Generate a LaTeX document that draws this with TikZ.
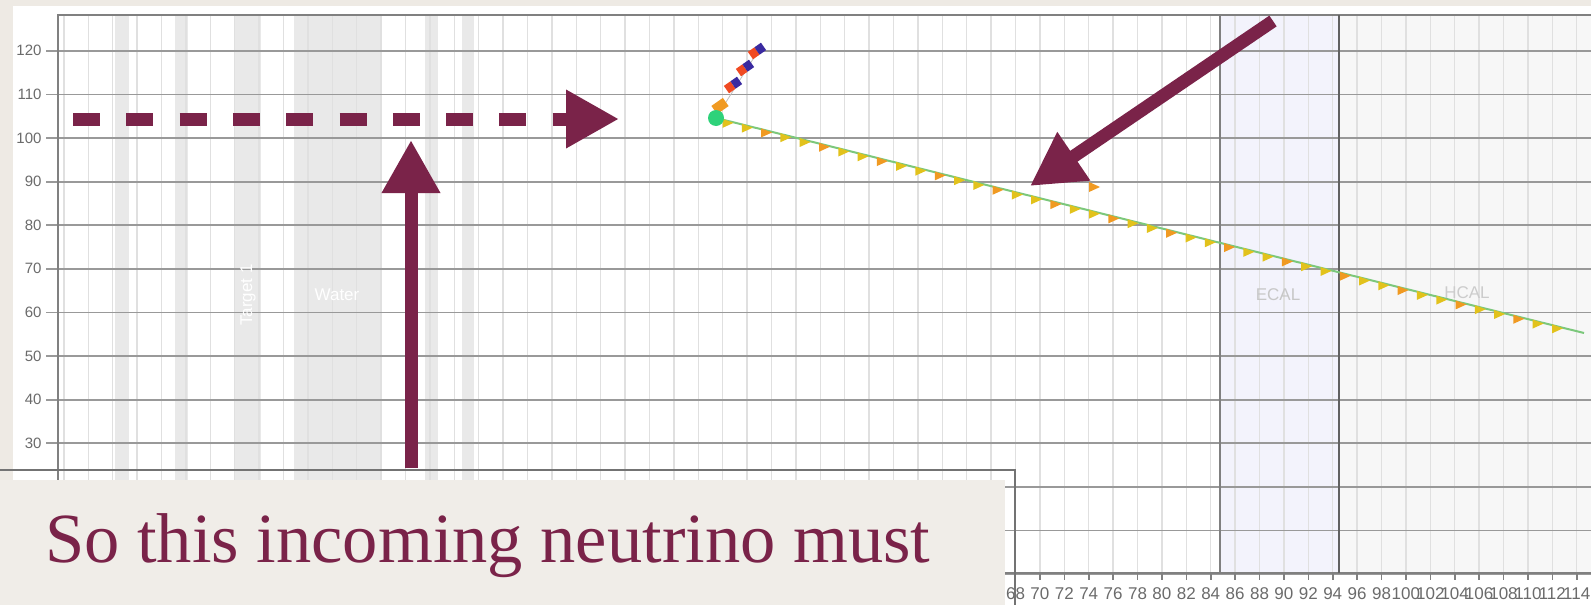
\documentclass[tikz,border=0pt]{standalone}
\usepackage{fontspec}
\setmainfont{Liberation Serif}
\setsansfont{Liberation Sans}
\usetikzlibrary{arrows.meta,calc}

\definecolor{slidered}{HTML}{7A2349}
\definecolor{slidebg}{HTML}{EEEAE4}
\definecolor{boxfill}{HTML}{F0EDE8}
\definecolor{bandgray}{HTML}{E9E9E9}
\definecolor{ecalfill}{HTML}{F3F3FC}
\definecolor{hcalfill}{HTML}{F7F7F7}
\definecolor{trkgreen}{HTML}{7CC87C}
\definecolor{trkyellow}{HTML}{E2C21C}
\definecolor{trkorange}{HTML}{F09A22}
\definecolor{hitred}{HTML}{F04A22}
\definecolor{hitblue}{HTML}{3A2AA0}
\definecolor{vtxgreen}{HTML}{2ED27A}

\begin{document}
\begin{tikzpicture}[
  x=1pt,y=-1pt,
  line cap=butt,
  >={Triangle[length=53pt,width=55pt]},
  note/.style={draw=slidered,line width=13pt,->},
  band/.style={fill=bandgray},
  vgrid/.style={draw=black!12,line width=1.4pt},
  hgrid/.style={draw=black!40,line width=1.8pt},
  frame/.style={draw=black!50,line width=1.6pt},
  axlabel/.style={font=\sffamily\fontsize{15}{15}\selectfont,text=black!58},
  ticklabel/.style={font=\sffamily\fontsize{17}{17}\selectfont,text=black!58,inner sep=0pt},
  detlabel/.style={font=\sffamily\fontsize{17}{17}\selectfont},
  track/.style={draw=trkgreen,line width=2pt},
  caption/.style={font=\fontsize{70.5}{82}\selectfont,text=slidered,inner sep=0pt}
]
\useasboundingbox (0,0) rectangle (1591,605);
\fill[slidebg] (0,0) rectangle (1591,605);
\fill[white] (13,6) rectangle (1591,605);

% detector regions behind the grid
\fill[band] (115,15) rectangle (129,573);
\fill[band] (175,15) rectangle (188,573);
\fill[band] (235,15) rectangle (261,573);
\fill[band] (294,15) rectangle (380,573);
\fill[band] (425,15) rectangle (438,573);
\fill[band] (462,15) rectangle (474,573);
\fill[ecalfill] (1220,15) rectangle (1339,573);
\fill[hcalfill] (1339,15) rectangle (1591,573);

% grid
\begin{scope}
  \clip (58,15) rectangle (1591,573);
  \foreach \k in {0,...,64}
    \draw[vgrid] ({1015.5+(\k-39)*24.4},15) -- ++(0,558);
\end{scope}
\foreach \v in {0,10,...,120} {
  \pgfmathsetmacro\py{138-(\v-100)*4.36}
  \draw[hgrid] (46,\py) -- (1591,\py);
  \node[axlabel,anchor=east] (yl\v) at (45,\py) {\v};
}
\draw[frame] (1591,15) -- (58,15) -- (58,573) -- (1591,573);
\draw[frame] (1220,15) -- (1220,573);
\draw[draw=black!62,line width=1.8pt] (1339,15) -- (1339,573);
\foreach \u in {68,70,...,114} {
  \pgfmathsetmacro\px{1015.5+(\u-68)*12.2}
  \draw[frame] (\px,573) -- ++(0,7);
  \node[ticklabel] (xl\u) at (\px,594) {\u};
}

\node[detlabel,text=white,rotate=90] (tgt) at (248,295) {Target 1};
\node[detlabel,text=white] (water) at (337,295) {Water};
\node[detlabel,text=black!22] (ecal) at (1278,295) {ECAL};
\node[detlabel,text=black!20] (hcal) at (1467,293) {HCAL};

% reconstructed tracks
\coordinate (vtx) at (716,118);
\coordinate (trkend) at (1584,333);
\draw[track] (vtx) -- (trkend);
\foreach \t in {1,...,44} {
  \pgfmathsetmacro\f{(\t-0.4)/45}
  \pgfmathtruncatemacro\c{mod(\t,3)}
  \ifnum\c=0 \def\mc{trkorange}\else\def\mc{trkyellow}\fi
  \fill[\mc] ($(vtx)!\f!(trkend)$) +(-5,-2) -- +(6,2) -- +(-5,7) -- cycle;
}
\fill[trkorange] (1094,187) +(-5,-5) -- +(6,0) -- +(-5,5) -- cycle;
\draw[black!25,line width=0.8pt] (vtx) -- (760,48);
\foreach \mx/\my in {757/51,745/68,733/85} {
  \begin{scope}[shift={(\mx,\my)},rotate=35]
    \fill[hitred] (-8,-4.5) rectangle (0,4.5);
    \fill[hitblue] (0,-4.5) rectangle (8,4.5);
  \end{scope}
}
\begin{scope}[shift={(720,106)},rotate=35]
  \fill[trkorange] (-7,-5) rectangle (7,5);
\end{scope}
\fill[vtxgreen] (vtx) circle (8);

% annotation arrows
\coordinate (dstart) at (73,119);
\coordinate (dtip) at (619,119);
\draw[note,dash pattern=on 27pt off 26.3pt] (dstart) -- (dtip);
\coordinate (vbase) at (411,468);
\coordinate (vtip) at (411,140);
\draw[note] (vbase) -- (vtip);
\coordinate (dgstart) at (1273,21);
\coordinate (dgtip) at (1030,186);
\draw[note] (dgstart) -- (dgtip);

% text box
\fill[boxfill] (0,480) rectangle (1005,605);
\draw[draw=black!55,line width=1.6pt] (0,470) -- (1015,470) -- (1015,605);
\node[caption,anchor=base west] (capt) at (45,562) {So this incoming neutrino must};
\end{tikzpicture}
\end{document}
